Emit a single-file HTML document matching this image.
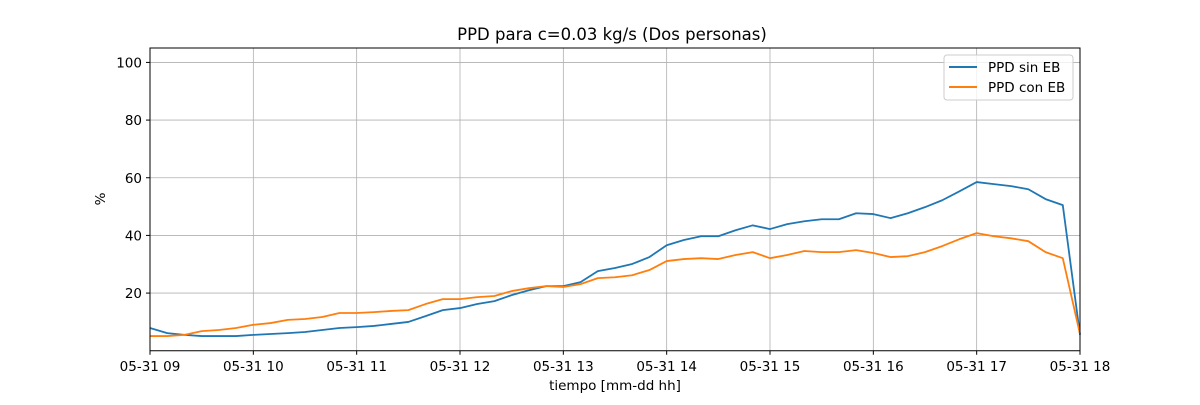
<!DOCTYPE html>
<html><head><meta charset="utf-8"><style>
body{margin:0;background:#fff}
svg text{font-family:"DejaVu Sans","Liberation Sans",sans-serif;fill:#000}
</style></head><body>
<svg id="chart" width="1200" height="400">
<rect width="1200" height="400" fill="#fff"/>
<text x="612" y="40" font-size="16.5" text-anchor="middle">PPD para c=0.03 kg/s (Dos personas)</text>
<g id="grid"></g><g id="lines"></g><g id="axes"></g>
<text x="615" y="390" font-size="13.5" text-anchor="middle">tiempo [mm-dd hh]</text>
<text transform="translate(105,199) rotate(-90)" font-size="13.5" text-anchor="middle">%</text>
<g>
<rect x="944" y="55" width="129" height="45" rx="3" fill="#fff" fill-opacity="0.8" stroke="#ccc"/>
<line x1="949" y1="67" x2="977" y2="67" stroke="#1f77b4" stroke-width="2"/>
<text x="988" y="72" font-size="13.5">PPD sin EB</text>
<line x1="949" y1="87" x2="977" y2="87" stroke="#ff7f0e" stroke-width="2"/>
<text x="988" y="92" font-size="13.5">PPD con EB</text>
</g>
</svg>
<script>
const xTickLabels=["05-31 09","05-31 10","05-31 11","05-31 12","05-31 13","05-31 14","05-31 15","05-31 16","05-31 17","05-31 18"];
const yTickValues=[20,40,60,80,100];
const sinEB=[7.9,6.1,5.5,5.1,5.1,5.1,5.5,5.8,6.1,6.5,7.2,7.9,8.2,8.6,9.3,10,12,14.1,14.8,16.2,17.2,19.3,21,22.4,22.4,23.8,27.6,28.7,30.1,32.5,36.6,38.4,39.7,39.7,41.8,43.5,42.2,43.9,44.9,45.6,45.6,47.7,47.4,46,47.7,49.8,52.2,55.3,58.5,57.8,57.1,56,52.6,50.5,5.5];
const conEB=[5.1,5.1,5.5,6.8,7.2,7.9,9,9.6,10.7,11,11.7,13.1,13.1,13.4,13.8,14.1,16.2,17.9,17.9,18.6,19,20.7,21.7,22.4,22.1,23.1,25.2,25.5,26.2,28,31.1,31.8,32.1,31.8,33.2,34.2,32.1,33.2,34.6,34.2,34.2,34.9,33.9,32.5,32.8,34.2,36.3,38.7,40.8,39.7,39,38,34.2,32.1,5.8];
const L=150,R=1080,T=48,B=350.75,yMax=105;
const xs=h=>L+(R-L)*h/9;               // hours since 09:00
const ys=v=>B-(B-T)*v/yMax;
const NS="http://www.w3.org/2000/svg";
function mk(p,tag,a){const e=document.createElementNS(NS,tag);for(const k in a)e.setAttribute(k,a[k]);p.appendChild(e);return e;}
const grid=document.getElementById('grid'),axes=document.getElementById('axes'),lines=document.getElementById('lines');
xTickLabels.forEach((t,i)=>{const x=xs(i);
 const g=mk(grid,'line',{x1:x,x2:x,y1:T,y2:B,stroke:'#b0b0b0','stroke-width':0.8});
 
 
 mk(axes,'line',{x1:x,x2:x,y1:B,y2:B+4,stroke:'#000'});
 const tx=mk(axes,'text',{x:x,y:B+20,'font-size':13.5,'text-anchor':'middle'});tx.textContent=t;
 
 
});
yTickValues.forEach(v=>{const y=ys(v);
 const g=mk(grid,'line',{x1:L,x2:R,y1:y,y2:y,stroke:'#b0b0b0','stroke-width':0.8});
 
 
 mk(axes,'line',{x1:L-4,x2:L,y1:y,y2:y,stroke:'#000'});
 const tx=mk(axes,'text',{x:L-8,y:y+5,'font-size':13.5,'text-anchor':'end'});tx.textContent=v;
 
 
});
const frame=mk(axes,'rect',{x:L,y:T,width:R-L,height:B-T,fill:'none',stroke:'#000','stroke-width':1});


function line(data,color,name){
 const step=9/(data.length-1);
 const d=data.map((v,i)=>(i?'L':'M')+xs(i*step).toFixed(2)+','+ys(v).toFixed(2)).join('');
 const p=mk(lines,'path',{d:d,fill:'none',stroke:color,'stroke-width':1.8,'stroke-linejoin':'round'});
 
 
}
line(sinEB,'#1f77b4','series-ppd-sin-eb');
line(conEB,'#ff7f0e','series-ppd-con-eb');
</script>
</body></html>
